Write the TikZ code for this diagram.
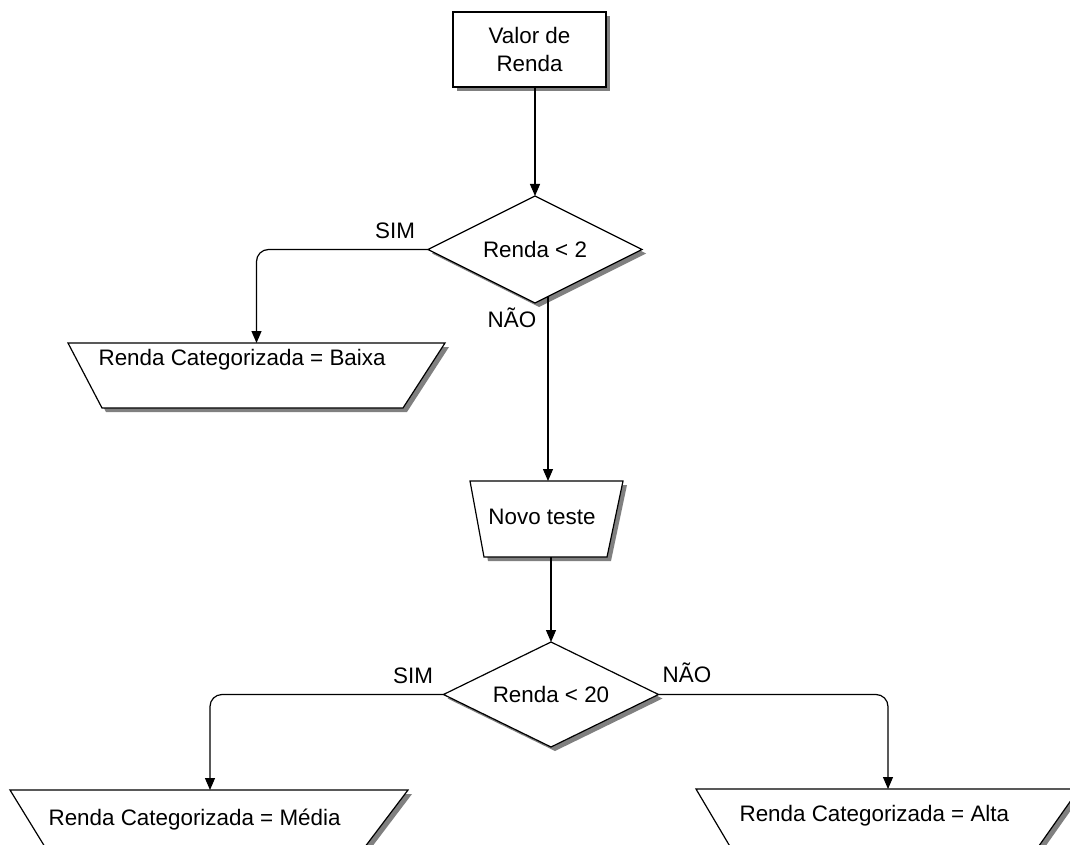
\documentclass[tikz,border=0pt]{standalone}
\usepackage{fontspec}
\setmainfont{Liberation Sans}
\usetikzlibrary{shapes.geometric,shadows,arrows.meta}
\begin{document}
\begin{tikzpicture}[x=0.5pt,y=-0.5pt,
  font=\fontsize{11.2}{14}\selectfont,
  line width=0.6pt,
  shad/.style={drop shadow={shadow xshift=2pt,shadow yshift=-2pt,fill=black!50,opacity=1}},
  procbox/.style={draw,fill=white,shad,minimum width=76.5pt,minimum height=37.5pt,inner sep=0pt,outer sep=0pt,align=center},
  decision/.style={draw,fill=white,shad,shape=diamond,inner sep=0pt,outer sep=0pt,aspect=2},
  shapefill/.style={draw,fill=white,shad},
  lbl/.style={inner sep=0pt},
  conn/.style={-{Triangle[width=5pt,length=6pt]}},
  rbend/.style={rounded corners=6pt}
]
\useasboundingbox (0,0) rectangle (1070,845);
\clip (0,0) rectangle (1070,845);
\fill[white] (0,0) rectangle (1070,845);

% process box
\node[procbox] (top) at (529.5,49.5) {Valor de\\Renda};

% decision 1
\node[decision,minimum width=107pt,minimum height=53.5pt] (d1) at (535,249.5) {Renda < 2};

% Baixa
\path[shapefill] (68,343) -- (445,343) -- (403,408) -- (102,408) -- cycle;
\coordinate (baixaIn) at (256.5,343);
\node[lbl,anchor=west] (baixa) at (98,360) {Renda Categorizada = Baixa};

% Novo teste
\path[shapefill] (470,481) -- (623,481) -- (607,557) -- (484,557) -- cycle;
\node[lbl] (nt) at (542,517) {Novo teste};
\coordinate (ntIn) at (548,481);
\coordinate (ntOut) at (551,557);

% decision 2
\node[decision,minimum width=107.5pt,minimum height=52.5pt] (d2) at (551,694.5) {Renda < 20};

% Media
\path[shapefill] (10,790) -- (408,790) -- (355,860) -- (53,860) -- cycle;
\coordinate (mediaIn) at (210,790);
\node[lbl,anchor=west] (media) at (48,820) {Renda Categorizada = Média};

% Alta
\path[shapefill] (696,789) -- (1079,789) -- (1029,860) -- (738,860) -- cycle;
\coordinate (altaIn) at (888,789);
\node[lbl,anchor=west] (alta) at (739,816) {Renda Categorizada = Alta};

% connectors
\draw[conn] (top.south -| d1.north) -- (d1.north);
\draw[conn,rbend] (d1.west) -- (baixaIn |- d1.west) -- (baixaIn);
\coordinate (d1no) at (548,297);
\draw[conn] (d1no) -- (ntIn);
\draw[conn] (ntOut) -- (d2.north);
\draw[conn,rbend] (d2.west) -- (mediaIn |- d2.west) -- (mediaIn);
\draw[conn,rbend] (d2.east) -- (altaIn |- d2.east) -- (altaIn);

% labels
\node[lbl] (sim1) at (395,231) {SIM};
\node[lbl] (nao1) at (512,318) {NÃO};
\node[lbl] (sim2) at (413,676) {SIM};
\node[lbl] (nao2) at (687,673) {NÃO};
\end{tikzpicture}
\end{document}
